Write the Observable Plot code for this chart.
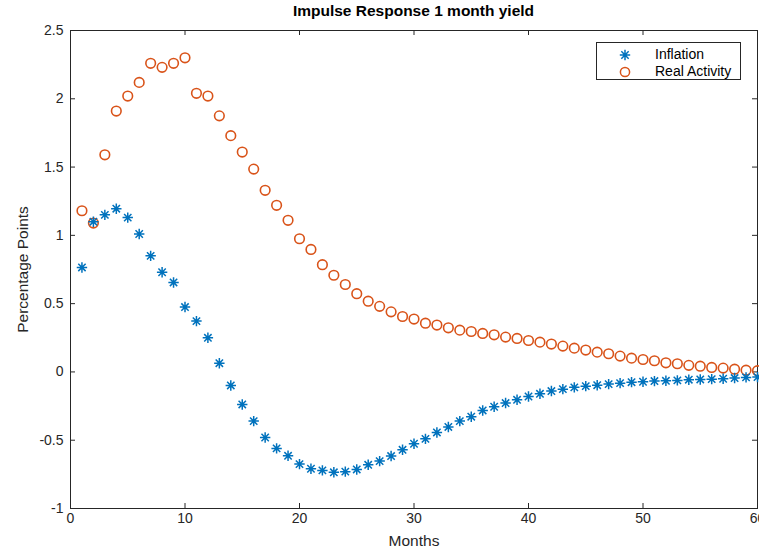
<!DOCTYPE html>
<html><head><meta charset="utf-8">
<script src="https://cdn.jsdelivr.net/npm/d3@7"></script>
<script src="https://cdn.jsdelivr.net/npm/@observablehq/plot@0.6"></script>
<style>
body{margin:0;background:#fff;font-family:"Liberation Sans",Arial,Helvetica,sans-serif}
#wrap{position:relative;width:759px;height:549px;overflow:hidden}
#title{position:absolute;top:2px;left:70px;width:687px;text-align:center;font-weight:bold;font-size:15.5px;color:#000}
#legend{position:absolute;left:596px;top:42px;width:145px;height:38px;border:1px solid #262626;background:#fff;box-sizing:border-box}
.li{position:absolute;left:0;height:17px;line-height:17px;font-size:14px;color:#000;white-space:nowrap}
.li svg{position:absolute;left:21px;top:2px}
.li span{position:absolute;left:58px}
</style>
</head><body>
<div id="wrap"><div id="title">Impulse Response 1 month yield</div></div>
<script>
const months = [1,2,3,4,5,6,7,8,9,10,11,12,13,14,15,16,17,18,19,20,21,22,23,24,25,26,27,28,29,30,
  31,32,33,34,35,36,37,38,39,40,41,42,43,44,45,46,47,48,49,50,51,52,53,54,55,56,57,58,59,60];
const inflation = [0.765,1.10,1.15,1.195,1.13,1.01,0.85,0.73,0.655,0.475,0.372,0.25,0.064,-0.099,-0.238,-0.36,-0.48,-0.56,-0.614,-0.675,
  -0.709,-0.721,-0.735,-0.73,-0.714,-0.68,-0.653,-0.616,-0.57,-0.526,-0.49,-0.443,-0.403,-0.36,-0.328,-0.282,-0.255,-0.228,-0.204,-0.18,
  -0.16,-0.14,-0.126,-0.113,-0.104,-0.097,-0.089,-0.082,-0.075,-0.072,-0.067,-0.065,-0.062,-0.057,-0.055,-0.053,-0.05,-0.045,-0.04,-0.038];
const realActivity = [1.18,1.09,1.59,1.91,2.02,2.12,2.26,2.23,2.26,2.30,2.04,2.02,1.875,1.73,1.61,1.485,1.33,1.22,1.11,0.975,
  0.897,0.785,0.708,0.64,0.573,0.518,0.48,0.44,0.406,0.387,0.357,0.343,0.323,0.306,0.296,0.282,0.272,0.255,0.245,0.23,
  0.218,0.204,0.189,0.174,0.16,0.145,0.133,0.116,0.101,0.091,0.082,0.067,0.06,0.048,0.042,0.033,0.028,0.02,0.013,0.009];
const xTicks = [0,10,20,30,40,50,60];
const yTicks = [-1,-0.5,0,0.5,1,1.5,2,2.5];
const seriesNames = ["Inflation","Real Activity"];
const blue = "#0072BD", orange = "#D95319", axisColor = "#262626";

const asterisk = {
  draw(ctx, size) {
    const r = Math.sqrt(size / Math.PI), d = r * Math.SQRT1_2;
    ctx.moveTo(-r, 0); ctx.lineTo(r, 0);
    ctx.moveTo(0, -r); ctx.lineTo(0, r);
    ctx.moveTo(-d, -d); ctx.lineTo(d, d);
    ctx.moveTo(-d, d); ctx.lineTo(d, -d);
  }
};

const infData = months.map((m, i) => ({m, v: inflation[i]}));
const realData = months.map((m, i) => ({m, v: realActivity[i]}));

const W = 759, H = 549, mL = 70, mR = 2, mT = 30, mB = 41;
const fw = W - mL - mR, fh = H - mT - mB, tk = 5;

const chart = Plot.plot({
  width: W, height: H,
  marginLeft: mL, marginRight: mR, marginTop: mT, marginBottom: mB,
  style: {fontFamily: '"Liberation Sans", Arial, sans-serif', fontSize: "14px", color: axisColor, background: "#fff", overflow: "visible"},
  x: {domain: [0, 60]},
  y: {domain: [-1, 2.5]},
  marks: [
    Plot.axisX(xTicks, {tickSize: 0, tickPadding: 5, tickFormat: d => String(d), fontSize: 14, label: null}),
    Plot.axisX({tickSize: 0, ticks: [], label: "Months", labelAnchor: "center", labelArrow: "none", labelOffset: 37, fontSize: 15.5}),
    Plot.axisY(yTicks, {tickSize: 0, tickPadding: 7, tickFormat: d => String(d), fontSize: 14, label: null}),
    Plot.axisY({tickSize: 0, ticks: [], label: "Percentage Points", labelAnchor: "center", labelArrow: "none", labelOffset: 54, fontSize: 15.5}),
    Plot.ruleX(xTicks, {x: d => d, insetTop: fh - tk, stroke: axisColor}),
    Plot.ruleX(xTicks, {x: d => d, insetBottom: fh - tk, stroke: axisColor}),
    Plot.ruleY(yTicks, {y: d => d, insetRight: fw - tk, stroke: axisColor}),
    Plot.ruleY(yTicks, {y: d => d, insetLeft: fw - tk, stroke: axisColor}),
    Plot.frame({stroke: axisColor, strokeWidth: 1}),
    Plot.dot(realData, {x: "m", y: "v", symbol: "circle", r: 4.8, fill: "none", stroke: orange, strokeWidth: 1.6}),
    Plot.dot(infData, {x: "m", y: "v", symbol: asterisk, r: 5.2, fill: "none", stroke: blue, strokeWidth: 1.5})
  ]
});
const wrap = document.getElementById("wrap");
wrap.insertBefore(chart, wrap.firstChild);

// legend
const legend = document.createElement("div");
legend.id = "legend";
const styles = [{sym: asterisk, color: blue}, {sym: d3.symbolCircle, color: orange}];
seriesNames.forEach((name, i) => {
  const item = document.createElement("div");
  item.className = "li";
  item.style.top = (3 + i * 17) + "px";
  item.style.width = "140px";
  const svg = d3.create("svg").attr("width", 14).attr("height", 14);
  svg.append("path")
    .attr("transform", "translate(7,7)")
    .attr("d", d3.symbol(styles[i].sym, Math.PI * (i === 0 ? 5.2 : 4.6) ** 2)())
    .attr("fill", "none").attr("stroke", styles[i].color).attr("stroke-width", 1.5);
  item.appendChild(svg.node());
  const sp = document.createElement("span");
  sp.textContent = name;
  item.appendChild(sp);
  legend.appendChild(item);
});
wrap.appendChild(legend);
</script>
</body></html>
